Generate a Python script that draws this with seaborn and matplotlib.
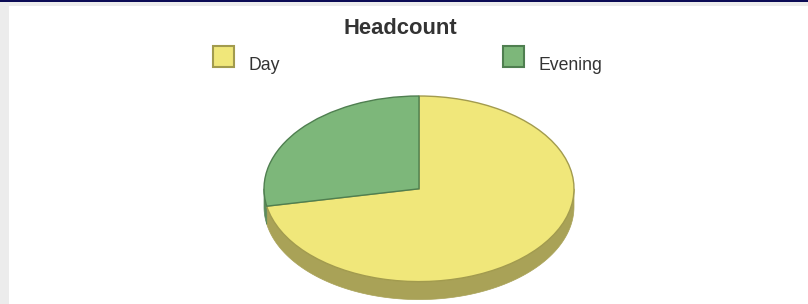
import numpy as np
import matplotlib
matplotlib.use("Agg")
import matplotlib.pyplot as plt
from matplotlib.patches import Rectangle, Polygon
import seaborn as sns

sns.set_theme(style="white")
plt.rcParams['font.family'] = ['Liberation Sans', 'DejaVu Sans']

# ---- data ----
title = "Headcount"
categories = ["Day", "Evening"]
values = [72, 28]
colors = ["#F0E77A", "#7DB77A"]
edge_colors = ["#A29B4E", "#4F7F50"]
side_colors = ["#A9A257", "#5C8A5B"]

W, H = 808, 304
fig = plt.figure(figsize=(W / 100, H / 100), dpi=100)
fig.patch.set_facecolor("white")

def px_rect(x, y, w, h, **kw):
    # pixel coords with y from top
    fig.add_artist(Rectangle((x / W, 1 - (y + h) / H), w / W, h / H,
                             transform=fig.transFigure, **kw))

# page chrome
px_rect(0, 0, 9, H, facecolor="#ECECEC", edgecolor="none")
px_rect(0, 2, W, 4, facecolor="#ECECEC", edgecolor="none")
px_rect(0, 0, W, 2, facecolor="#0B0B55", edgecolor="none")

# pie axes placed over the ellipse bounding box
cx, cy, rx, ry, depth = 419, 188.8, 155, 92.8, 18
ax = fig.add_axes([(cx - rx) / W, 1 - (cy + ry) / H, 2 * rx / W, 2 * ry / H])
ax.set_facecolor("none")
wedges, _ = ax.pie(values, colors=colors, startangle=90, counterclock=False,
                   wedgeprops=dict(linewidth=1.0))
for w, ec in zip(wedges, edge_colors):
    w.set_edgecolor(ec)
    w.set_zorder(3)
ax.set_aspect("auto")
ax.set_xlim(-1, 1)
ax.set_ylim(-1, 1)
ax.axis("off")

d = depth / ry
for w, sc in zip(wedges, side_colors):
    t1, t2 = w.theta1, w.theta2
    for lo, hi in [(-540, -360), (-180, 0), (180, 360)]:
        a, b = max(t1, lo), min(t2, hi)
        if b > a:
            t = np.radians(np.linspace(a, b, 100))
            top = np.column_stack([np.cos(t), np.sin(t)])
            bot = np.column_stack([np.cos(t[::-1]), np.sin(t[::-1]) - d])
            ax.add_patch(Polygon(np.vstack([top, bot]), closed=True,
                                 facecolor=sc, edgecolor=sc, linewidth=0.5,
                                 zorder=1, clip_on=False))

# title
fig.text(400 / W, 1 - 34 / H, title, ha="center", va="baseline",
         fontsize=15.8, fontweight="bold", color="#333333")

# legend
leg_x = [213, 503]
for xk, lab, col, ec in zip(leg_x, categories, colors, edge_colors):
    px_rect(xk, 45.5, 21, 21, facecolor=col, edgecolor=ec, linewidth=1.5)
    fig.text((xk + 35.5) / W, 1 - 70.5 / H, lab, ha="left", va="baseline",
             fontsize=12.7, color="#333333")

fig.savefig("out.png", dpi=100)
